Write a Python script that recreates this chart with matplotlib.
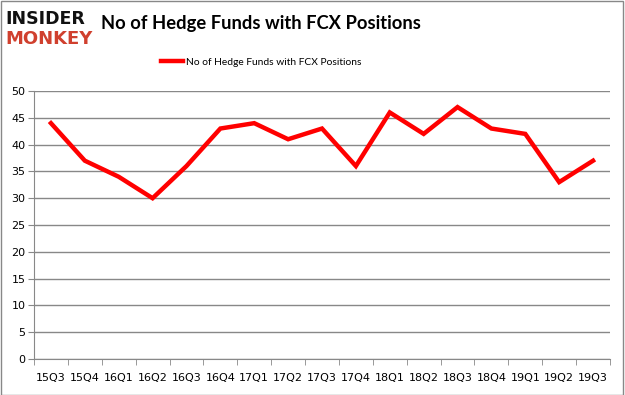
import matplotlib
matplotlib.use("Agg")
import matplotlib.pyplot as plt
from matplotlib.patches import Rectangle
import numpy as np

quarters = ["15Q3","15Q4","16Q1","16Q2","16Q3","16Q4","17Q1","17Q2","17Q3",
            "17Q4","18Q1","18Q2","18Q3","18Q4","19Q1","19Q2","19Q3"]
funds = [44, 37, 34, 30, 36, 43, 44, 41, 43, 36, 46, 42, 47, 43, 42, 33, 37]
yticks = list(range(0, 51, 5))
title = "No of Hedge Funds with FCX Positions"

fig = plt.figure(figsize=(6.25, 3.95), dpi=100)
ax = fig.add_axes([0.0544, 0.0911, 0.9216, 0.6785])

x = np.arange(len(quarters))
ax.plot(x, funds, color="#ff0000", lw=3.2, solid_joinstyle="miter", label=title)
ax.set_xlim(-0.5, len(quarters) - 0.5)
ax.set_ylim(0, 50)
ax.set_yticks(yticks)
ax.set_xticks(x)
ax.set_xticklabels(quarters)
ax.set_xticks(np.arange(-0.5, len(quarters)), minor=True)
ax.tick_params(axis="x", which="major", length=0, labelsize=8, pad=10)
ax.tick_params(axis="x", which="minor", length=4, color="#888888")
ax.tick_params(axis="y", length=4, color="#888888", labelsize=8, pad=2)
ax.yaxis.grid(True, color="#888888", lw=1)
ax.set_axisbelow(True)
for s in ["top", "right"]:
    ax.spines[s].set_visible(False)
for s in ["left", "bottom"]:
    ax.spines[s].set_color("#888888")

fig.text(0.418, 0.940, title, ha="center", va="center", fontsize=13.2,
         fontweight="bold", family="Lato")
leg = fig.legend(loc="center", bbox_to_anchor=(0.418, 0.843), frameon=False,
                 prop={"family": "Lato", "size": 7.4}, handlelength=2.2,
                 handletextpad=0.3)

fig.text(0.008, 0.952, "INSIDER", ha="left", va="center", fontsize=12.5,
         fontweight="heavy", family="DejaVu Sans", color="#111111")
fig.text(0.008, 0.900, "MONKEY", ha="left", va="center", fontsize=13,
         fontweight="heavy", family="DejaVu Sans", color="#d0402e")

fig.patches.append(Rectangle((0.001, 0.001), 0.996, 0.996, transform=fig.transFigure,
                             fill=False, edgecolor="#888888", lw=1))
fig.savefig("out.png", dpi=100)
